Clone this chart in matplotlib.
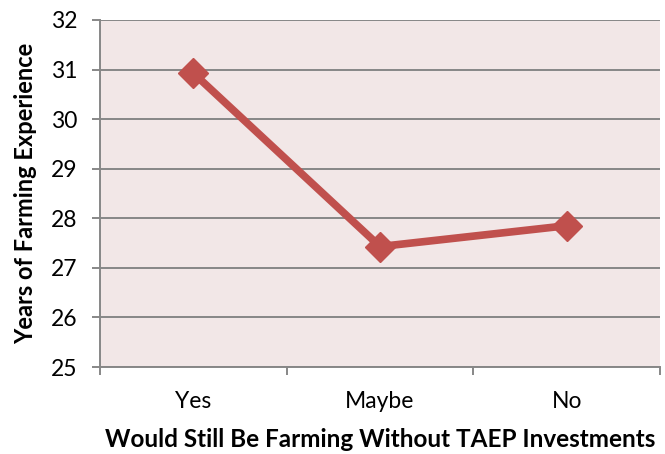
import matplotlib
matplotlib.use("Agg")
import matplotlib.pyplot as plt

categories = ["Yes", "Maybe", "No"]
years_experience = [30.93, 27.43, 27.85]
y_ticks = [25, 26, 27, 28, 29, 30, 31, 32]

plt.rcParams['font.family'] = ['Lato', 'DejaVu Sans']

fig = plt.figure(figsize=(6.65, 4.54), dpi=100)
ax = fig.add_axes([100 / 665, 1 - 367 / 454, 560 / 665, 347 / 454])
ax.set_facecolor('#F2E7E7')

x = range(len(categories))
ax.plot(x, years_experience, color='#C0504D', linewidth=5.5, marker='D',
        markersize=15, solid_joinstyle='miter', zorder=3)

ax.set_xlim(-0.5, len(categories) - 0.5)
ax.set_ylim(25, 32)
ax.set_yticks(y_ticks)
ax.set_xticks([i - 0.5 for i in range(len(categories) + 1)], minor=False)
ax.set_xticklabels([])
ax.set_xticks(list(x), minor=True)
ax.set_xticklabels(categories, minor=True)

grid_color = '#878787'
ax.yaxis.grid(True, color=grid_color, linewidth=1.4)
ax.set_axisbelow(True)
for side in ['top', 'right']:
    ax.spines[side].set_visible(False)
ax.spines['left'].set_color(grid_color)
ax.spines['bottom'].set_color(grid_color)
ax.spines['left'].set_linewidth(1.4)
ax.spines['bottom'].set_linewidth(1.4)

ax.tick_params(axis='y', length=6, width=1.4, color=grid_color, labelsize=16.5, pad=10)
ax.tick_params(axis='x', which='major', length=6, width=1.4, color=grid_color)
ax.tick_params(axis='x', which='minor', length=0, labelsize=16.5, pad=17)

ax.set_xlabel("Would Still Be Farming Without TAEP Investments", fontsize=17.5,
              fontweight='bold', labelpad=12)
ax.set_ylabel("Years of Farming Experience", fontsize=17, fontweight='bold', labelpad=10)

fig.savefig("out.png", dpi=100)
